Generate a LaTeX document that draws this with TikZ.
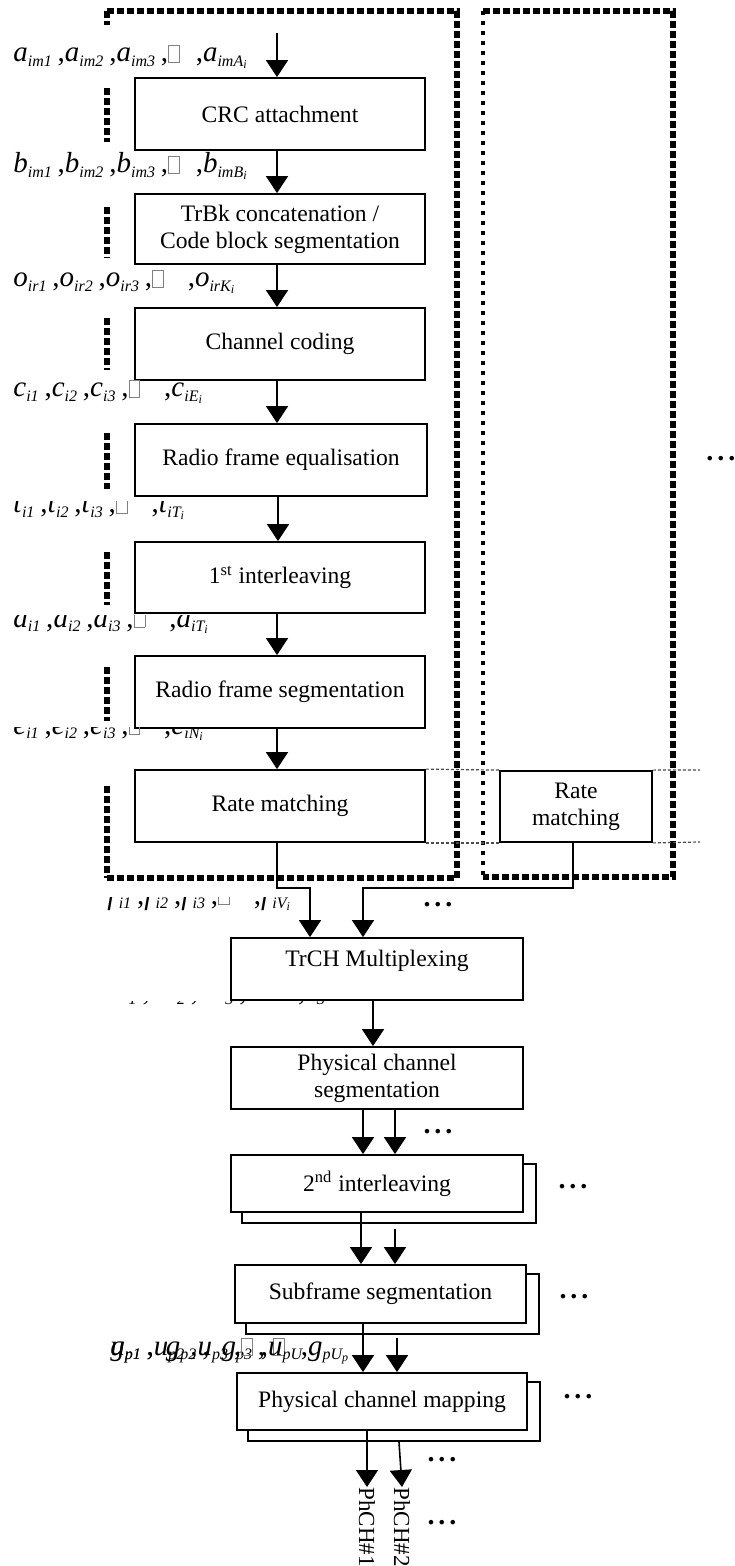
\documentclass[tikz,border=0pt]{standalone}
\usepackage{fontspec}
\setmainfont{Liberation Serif}
\usetikzlibrary{arrows.meta}
\newcommand\vsub[2]{\textit{#1}\textsubscript{\fontsize{8}{9}\selectfont\itshape #2}}
\newcommand\vsubb[3]{\textit{#1}\textsubscript{\fontsize{8}{9}\selectfont\itshape #2\textsubscript{\itshape #3}}}
\newcommand\gapbox{{\color{gray}\setlength\fboxsep{0pt}\setlength\fboxrule{0.4pt}\fbox{\rule{0pt}{8pt}\hspace{5pt}}}}
\def\backsheet(#1){\draw[line width=0.9pt] ([yshift=-5pt]#1.north east) -- ++(6pt,0) |- ([shift={(6pt,-5pt)}]#1.south west) -- ([xshift=6pt]#1.south west);}

\begin{document}
\begin{tikzpicture}[x=0.5pt,y=-0.5pt,
	blk/.style={draw, line width=0.9pt, fill=white, inner sep=0pt, align=center, font=\fontsize{11.8}{13.5}\selectfont},
	arr/.style={line width=0.8pt, -{Triangle[length=8.5pt,width=11pt]}},
	lbl/.style={anchor=base west, inner sep=0pt, font=\fontsize{14.5}{16}\selectfont},
	frm/.style={line width=3pt, dash pattern=on 3.4pt off 1.6pt},
	thinfrm/.style={line width=2pt, dash pattern=on 2pt off 3pt},
	guide/.style={line width=0.6pt, black!70, dash pattern=on 1.5pt off 1pt},
	etc/.style={inner sep=0pt, font=\fontsize{14}{16}\selectfont\bfseries},
	chan/.style={rotate=-90, anchor=west, inner sep=0pt, font=\fontsize{11.5}{13}\selectfont}]
		%%%%% START %%%%%
		\useasboundingbox (0,0) rectangle (734,1566);
		
		% dotted frames
		\draw[frm] (107,11) -- (457,11) -- (457,878) -- (107,878);
		\foreach \a/\b in {11/25,88/142,207/258,318/370,433/489,552/605,667/721,786/878}
			\draw[frm] (107,\a) -- (107,\b);
		\draw[frm] (483,11) -- (673,11) -- (673,877) -- (483,877);
		\draw[thinfrm] (483,11) -- (483,877);
		
		% per TrCH chain
		\node[blk, minimum width=145pt, minimum height=36pt] (crc) at (280,114) {CRC attachment};
		\node[blk, minimum width=145pt, minimum height=35pt] (trbk) at (280,229) {TrBk concatenation /\\Code block segmentation};
		\node[blk, minimum width=145pt, minimum height=36pt] (cc) at (280,344) {Channel coding};
		\node[blk, minimum width=146pt, minimum height=36pt] (rfe) at (281,460) {Radio frame equalisation};
		\node[blk, minimum width=145pt, minimum height=35.5pt] (il1) at (280,577.5) {1\textsuperscript{st} interleaving};
		\node[blk, minimum width=145pt, minimum height=36pt] (rfs) at (280,692) {Radio frame segmentation};
		\node[blk, minimum width=145pt, minimum height=36pt] (rm) at (280,806) {Rate matching};
		\node[blk, minimum width=76pt, minimum height=35.5pt] (rm2) at (576,806.5) {Rate\\matching};
		
		\coordinate (gl1) at (700,770);
		\coordinate (gl2) at (700,842);
		\draw[guide] (rm.north east) -- (rm2.north west);
		\draw[guide] (rm.south east) -- (rm2.south west);
		\draw[guide] (rm2.north east) -- (gl1);
		\draw[guide] (rm2.south east) -- (gl2);
		
		% common part
		\node[blk, minimum width=146pt, minimum height=31pt, text depth=11pt] (mux) at (377,969) {TrCH Multiplexing};
		\node[blk, minimum width=146pt, minimum height=31pt] (pcs) at (377,1078) {Physical channel\\segmentation};
		\node[blk, minimum width=146pt, minimum height=28.5pt] (il2) at (377,1183.5) {2\textsuperscript{nd} interleaving};
		\node[blk, minimum width=145.5pt, minimum height=29pt] (sfs) at (380.5,1294) {Subframe segmentation};
		\node[blk, minimum width=145pt, minimum height=28.5pt] (pcm) at (382,1401.5) {Physical channel mapping};
		\backsheet(il2)
		\backsheet(sfs)
		\backsheet(pcm)
		
		\node[chan] (ph1) at (367,1487) {PhCH\#1};
		\node[chan] (ph2) at (402,1487) {PhCH\#2};
		
		% arrows
		\coordinate (in0) at (277,33);
		\draw[arr] (in0) -- (in0 |- crc.north);
		\foreach \u/\v in {crc/trbk,trbk/cc,cc/rfe,rfe/il1,il1/rfs,rfs/rm}
			\draw[arr] ([xshift=-1.5pt]\u.south) -- ([xshift=-1.5pt]\u.south |- \v.north);
		
		\coordinate (j1) at (310,888);
		\coordinate (j2) at (363,888);
		\draw[arr] ([xshift=-1.5pt]rm.south) |- (j1) -- (j1 |- mux.north);
		\draw[arr] ([xshift=-1.5pt]rm2.south) |- (j2) -- (j2 |- mux.north);
		
		\draw[arr] ([xshift=-2pt]mux.south) -- ([xshift=-2pt]mux.south |- pcs.north);
		\draw[arr] ([xshift=-7pt]pcs.south) -- ([xshift=-7pt]pcs.south |- il2.north);
		\draw[arr] ([xshift=9pt]pcs.south) -- ([xshift=9pt]pcs.south |- il2.north);
		\draw[arr] ([xshift=-8pt]il2.south) -- ([xshift=-8pt]il2.south |- sfs.north);
		\draw[arr] ([xshift=9pt,yshift=-8pt]il2.south) -- ([xshift=9pt]il2.south |- sfs.north);
		\draw[arr] ([xshift=-8.75pt]sfs.south) -- ([xshift=-8.75pt]sfs.south |- pcm.north);
		\draw[arr] ([xshift=8.25pt,yshift=-7pt]sfs.south) -- ([xshift=8.25pt]sfs.south |- pcm.north);
		\draw[arr] (pcm.south -| ph1.west) -- (ph1.west);
		\draw[arr] ([xshift=8.5pt,yshift=-5.5pt]pcm.south) -- (ph2.west);
		
		% bit sequences
		\node[lbl] (alab) at (13,62) {\vsub{a}{im1}\,,\vsub{a}{im2}\,,\vsub{a}{im3}\,,\gapbox\hspace{8pt},\vsubb{a}{imA}{i}};
		\node[lbl] (blab) at (13,173) {\vsub{b}{im1}\,,\vsub{b}{im2}\,,\vsub{b}{im3}\,,\gapbox\hspace{8pt},\vsubb{b}{imB}{i}};
		\node[lbl] (olab) at (13,287) {\vsub{o}{ir1}\,,\vsub{o}{ir2}\,,\vsub{o}{ir3}\,,\gapbox\hspace{12pt},\vsubb{o}{irK}{i}};
		\node[lbl] (clab) at (13,397) {\vsub{c}{i1}\,,\vsub{c}{i2}\,,\vsub{c}{i3}\,,\gapbox\hspace{12pt},\vsubb{c}{iE}{i}};
		\begin{scope}
			\clip (0,502) rectangle (460,540);
			\node[lbl] (tlab) at (13,513) {\vsub{t}{i1}\,,\vsub{t}{i2}\,,\vsub{t}{i3}\,,\gapbox\hspace{12pt},\vsubb{t}{iT}{i}};
		\end{scope}
		\begin{scope}
			\clip (0,615) rectangle (460,650);
			\node[lbl] (dlab) at (13,627) {\vsub{d}{i1}\,,\vsub{d}{i2}\,,\vsub{d}{i3}\,,\gapbox\hspace{12pt},\vsubb{d}{iT}{i}};
		\end{scope}
		\begin{scope}
			\clip (0,727) rectangle (460,760);
			\node[lbl] (elab) at (13,734) {\vsub{e}{i1}\,,\vsub{e}{i2}\,,\vsub{e}{i3}\,,\gapbox\hspace{12pt},\vsubb{e}{iN}{i}};
		\end{scope}
		\begin{scope}
			\clip (0,897) rectangle (460,930);
			\node[lbl] (flab) at (107,904) {\vsub{f}{i1}\,,\vsub{f}{i2}\,,\vsub{f}{i3}\,,\gapbox\hspace{12pt},\vsubb{f}{iV}{i}};
		\end{scope}
		\begin{scope}
			\clip (0,1001) rectangle (460,1030);
			\node[lbl] (slab) at (117,1000) {\vsub{s}{1}\,,\hspace{8pt}\vsub{s}{2}\,,\hspace{8pt}\vsub{s}{3}\,,\hspace{8pt}\gapbox\hspace{12pt},\vsub{s}{S}};
		\end{scope}
		\node[lbl] (glab) at (110,1355) {\vsub{g}{p1}\,,\hspace{6pt}\vsub{g}{p2}\,,\hspace{6pt}\vsub{g}{p3}\,,\hspace{4pt}\gapbox\hspace{8pt},\vsubb{g}{pU}{p}};
		\node[lbl] (ulab) at (110,1355) {\vsub{u}{p1}\,,\vsub{u}{p2}\,,\vsub{u}{p3}\,,\gapbox\hspace{4pt},\vsub{u}{pU}};
		
		% more channels
		\node[etc] (e1) at (438,905) {.\hspace{2pt}.\hspace{2pt}.};
		\node[etc] (e2) at (438,1132) {.\hspace{2pt}.\hspace{2pt}.};
		\node[etc] (e3) at (573,1187) {.\hspace{2pt}.\hspace{2pt}.};
		\node[etc] (e4) at (574,1297) {.\hspace{2pt}.\hspace{2pt}.};
		\node[etc] (e5) at (578,1397) {.\hspace{2pt}.\hspace{2pt}.};
		\node[etc] (e6) at (442,1460) {.\hspace{2pt}.\hspace{2pt}.};
		\node[etc] (e7) at (442,1523) {.\hspace{2pt}.\hspace{2pt}.};
		\node[etc, anchor=west] (e8) at (706,459) {.\hspace{2pt}.\hspace{2pt}.};
		
		%%%%% END %%%%%
\end{tikzpicture}
\end{document}
